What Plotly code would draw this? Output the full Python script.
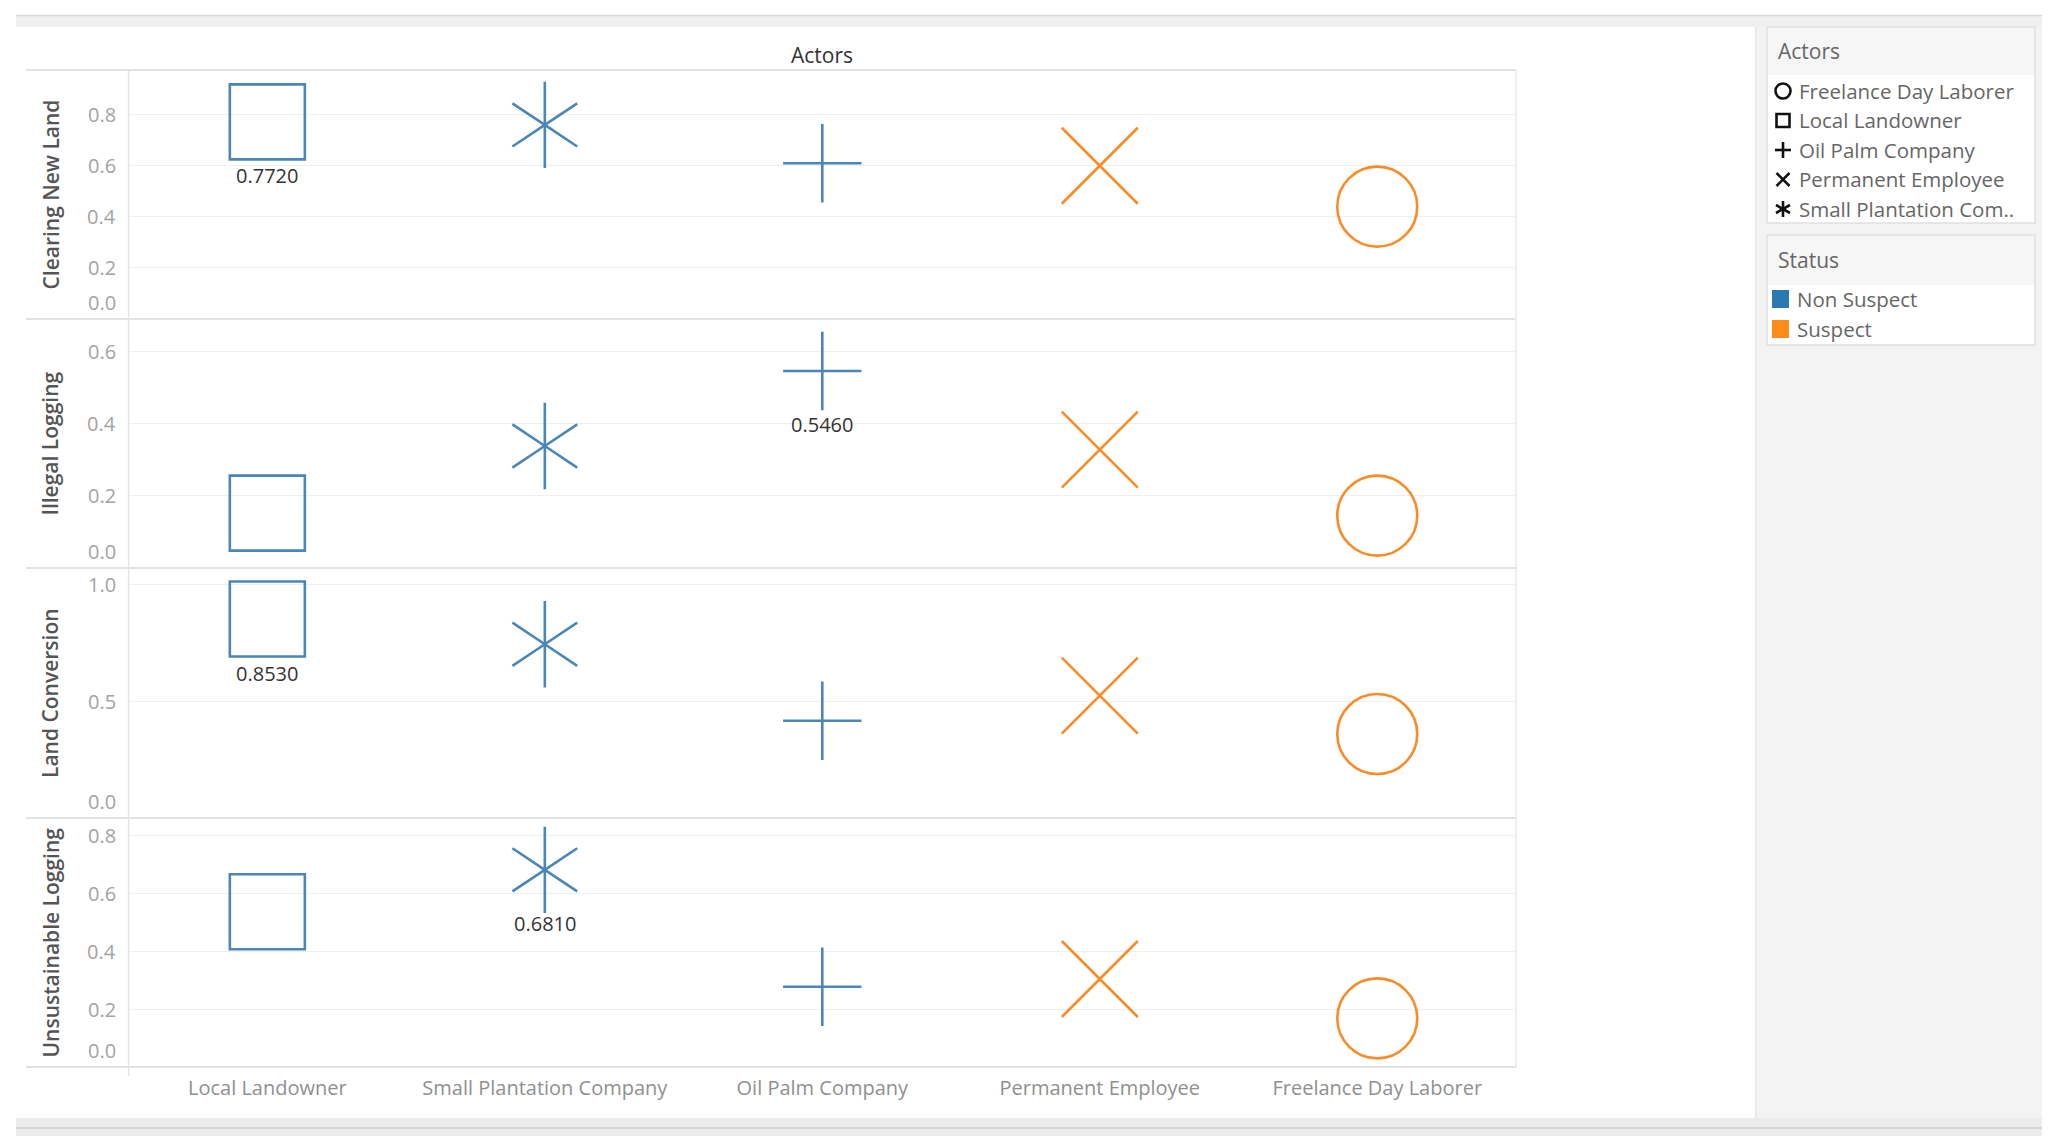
import plotly.graph_objects as go

W, H = 2058, 1147

# ---------------- data ----------------
actors = ["Local Landowner", "Small Plantation Company", "Oil Palm Company",
          "Permanent Employee", "Freelance Day Laborer"]
actor_status = ["Non Suspect", "Non Suspect", "Non Suspect", "Suspect", "Suspect"]
crimes = ["Clearing New Land", "Illegal Logging", "Land Conversion", "Unsustainable Logging"]
clearing_new_land = [0.772, 0.760, 0.610, 0.600, 0.440]
illegal_logging = [0.152, 0.338, 0.546, 0.328, 0.145]
land_conversion = [0.853, 0.745, 0.417, 0.525, 0.360]
unsustainable_logging = [0.536, 0.681, 0.277, 0.304, 0.168]
y_tick_values = [[0, 0.2, 0.4, 0.6, 0.8], [0, 0.2, 0.4, 0.6], [0, 0.5, 1.0], [0, 0.2, 0.4, 0.6, 0.8]]
legend_actor_labels = ["Freelance Day Laborer", "Local Landowner", "Oil Palm Company",
                       "Permanent Employee", "Small Plantation Com.."]
legend_status_labels = ["Non Suspect", "Suspect"]

series = [clearing_new_land, illegal_logging, land_conversion, unsustainable_logging]

# ---------------- styles ----------------
FONT = "Open Sans"
status_color = {"Non Suspect": "#4a86b8", "Suspect": "#fb8b26"}
swatch_color = {"Non Suspect": "#2b79b1", "Suspect": "#ff8b1c"}
actor_symbols = {
    "Local Landowner": [("square-open", 75)],
    "Small Plantation Company": [("y-up-open", 54), ("y-down-open", 54)],
    "Oil Palm Company": [("cross-thin-open", 56)],
    "Permanent Employee": [("x-thin-open", 76)],
    "Freelance Day Laborer": [("circle-open", 80)],
}
y_ranges = [[0, 0.975], [0, 0.69], [0, 1.072], [0, 0.86]]
panel_px = [(70, 319), (319, 568), (568, 818), (818, 1067)]
plot_left, plot_right = 128.6, 1516


def px(x):
    return x / W


def py(y):
    return 1 - y / H


fig = go.Figure()
axis_names = ["y", "y2", "y3", "y4"]

for i, vals in enumerate(series):
    ya = axis_names[i]
    for j, actor in enumerate(actors):
        col = status_color[actor_status[j]]
        for sym, size in actor_symbols[actor]:
            fig.add_trace(go.Scatter(
                x=[actor], y=[vals[j]], mode="markers", xaxis="x", yaxis=ya,
                marker=dict(symbol=sym, size=size, color=col,
                            line=dict(color=col, width=2.6)),
                showlegend=False, name=actor,
                hovertemplate=f"{crimes[i]}<br>{actor}: %{{y:.4f}}<extra></extra>"))

layout = dict(
    width=W, height=H,
    margin=dict(l=0, r=0, t=0, b=0),
    paper_bgcolor="white", plot_bgcolor="rgba(0,0,0,0)",
    font=dict(family=FONT, color="#555"),
    showlegend=False,
    xaxis=dict(
        type="category", categoryarray=actors, categoryorder="array",
        range=[-0.5, 4.5], domain=[px(plot_left), px(plot_right)],
        anchor="y4", showgrid=False, zeroline=False, showline=False,
        ticks="", tickfont=dict(size=20, color="#909090", family=FONT),
        ticklabelstandoff=7,
    ),
)
for i, (top, bot) in enumerate(panel_px):
    key = "yaxis" if i == 0 else f"yaxis{i + 1}"
    layout[key] = dict(
        domain=[py(bot), py(top)], range=y_ranges[i], anchor="x",
        tickvals=y_tick_values[i], showticklabels=False,
        showgrid=True, gridcolor="#efefef", gridwidth=1,
        zeroline=False, showline=False, ticks="",
    )
fig.update_layout(**layout)

shapes = []
# page background pieces
shapes.append(dict(type="rect", xref="paper", yref="paper", x0=px(16), x1=px(2042), y0=py(27), y1=py(15),
                   fillcolor="#efefef", line=dict(width=0), layer="below"))
shapes.append(dict(type="line", xref="paper", yref="paper", x0=px(16), x1=px(2042), y0=py(15.5), y1=py(15.5),
                   line=dict(color="#dadada", width=1.5), layer="below"))
shapes.append(dict(type="rect", xref="paper", yref="paper", x0=px(1757), x1=px(2042), y0=py(1118), y1=py(27),
                   fillcolor="#f3f3f3", line=dict(width=0), layer="below"))
shapes.append(dict(type="line", xref="paper", yref="paper", x0=px(1756), x1=px(1756), y0=py(1118), y1=py(27),
                   line=dict(color="#e2e2e2", width=1.5), layer="below"))
shapes.append(dict(type="rect", xref="paper", yref="paper", x0=px(16), x1=px(2042), y0=py(1136), y1=py(1118),
                   fillcolor="#ececec", line=dict(width=0), layer="below"))
shapes.append(dict(type="line", xref="paper", yref="paper", x0=px(16), x1=px(2042), y0=py(1128), y1=py(1128),
                   line=dict(color="#d6d6d6", width=2), layer="below"))

# legend boxes
for (t, hb, b) in [(27, 75, 223), (235, 285, 345)]:
    shapes.append(dict(type="rect", xref="paper", yref="paper", x0=px(1767), x1=px(2035), y0=py(b), y1=py(t),
                       fillcolor="white", line=dict(color="#e0e0e0", width=1.5), layer="below"))
    shapes.append(dict(type="rect", xref="paper", yref="paper", x0=px(1768), x1=px(2034), y0=py(hb), y1=py(t + 1),
                       fillcolor="#f6f6f6", line=dict(width=0), layer="below"))

# panel separators
for y in [70, 319, 568, 818, 1067]:
    shapes.append(dict(type="line", xref="paper", yref="paper", x0=px(26), x1=px(plot_right), y0=py(y), y1=py(y),
                       line=dict(color="#d9d9d9", width=1.6), layer="below"))
shapes.append(dict(type="line", xref="paper", yref="paper", x0=px(plot_left), x1=px(plot_left), y0=py(1076), y1=py(70),
                   line=dict(color="#e3e3e3", width=1.4), layer="below"))
shapes.append(dict(type="line", xref="paper", yref="paper", x0=px(plot_right), x1=px(plot_right), y0=py(1067), y1=py(70),
                   line=dict(color="#e8e8e8", width=1.4), layer="below"))

# status swatches
for k, s in enumerate(legend_status_labels):
    yc = 299 + k * 30
    shapes.append(dict(type="rect", xref="paper", yref="paper", x0=px(1772), x1=px(1789),
                       y0=py(yc + 9), y1=py(yc - 9), fillcolor=swatch_color[s], line=dict(width=0)))


# legend shape glyphs (black keys)
def key_line(x0, y0, x1, y1):
    return dict(type="line", xref="paper", yref="paper", x0=px(x0), x1=px(x1), y0=py(y0), y1=py(y1),
                line=dict(color="#111", width=2.6))


gx = 1783
for k, lab in enumerate(legend_actor_labels):
    yc = 91 + k * 29.5
    if k == 0:
        shapes.append(dict(type="circle", xref="paper", yref="paper", x0=px(gx - 7.5), x1=px(gx + 7.5),
                           y0=py(yc + 7.5), y1=py(yc - 7.5), line=dict(color="#111", width=2.6)))
    elif k == 1:
        shapes.append(dict(type="rect", xref="paper", yref="paper", x0=px(gx - 6.5), x1=px(gx + 6.5),
                           y0=py(yc + 6.5), y1=py(yc - 6.5), line=dict(color="#111", width=2.6)))
    elif k == 2:
        shapes.append(key_line(gx - 8, yc, gx + 8, yc))
        shapes.append(key_line(gx, yc - 8, gx, yc + 8))
    elif k == 3:
        shapes.append(key_line(gx - 6.5, yc - 6.5, gx + 6.5, yc + 6.5))
        shapes.append(key_line(gx - 6.5, yc + 6.5, gx + 6.5, yc - 6.5))
    else:
        shapes.append(key_line(gx, yc - 8, gx, yc + 8))
        shapes.append(key_line(gx - 7, yc - 4, gx + 7, yc + 4))
        shapes.append(key_line(gx - 7, yc + 4, gx + 7, yc - 4))

annotations = []


def ann(x, y, text, size, color, xanchor="center", yanchor="middle", **kw):
    d = dict(x=x, y=y, xref=kw.pop("xref", "paper"), yref=kw.pop("yref", "paper"), text=text,
             showarrow=False, xanchor=xanchor, yanchor=yanchor,
             font=dict(size=size, color=color, family=FONT, **kw.pop("fontkw", {})))
    d.update(kw)
    annotations.append(d)


# column header
ann(px(822), py(55), "Actors", 21, "#333")
# row titles
for i, (top, bot) in enumerate(panel_px):
    ann(px(50), py((top + bot) / 2), crimes[i], 21, "#555", textangle=-90, fontkw=dict(weight=600))
# y tick labels (through each panel's own axis)
for i, ticks in enumerate(y_tick_values):
    for v in ticks:
        ann(px(118), v, f"{v:.1f}", 20, "#a3a3a3", xanchor="right",
            yanchor="middle" if v > 0 else "bottom", yref=axis_names[i], yshift=0 if v > 0 else 1)
# max labels
for i, vals in enumerate(series):
    j = max(range(len(vals)), key=lambda k: vals[k])
    ann(actors[j], vals[j], f"{vals[j]:.4f}", 20, "#333", xref="x", yref=axis_names[i], yshift=-54)

# legend text
ann(px(1776), py(51), "Actors", 21, "#666", xanchor="left")
for k, lab in enumerate(legend_actor_labels):
    ann(px(1797), py(91 + k * 29.5), lab, 20.5, "#666", xanchor="left")
ann(px(1776), py(260), "Status", 21, "#666", xanchor="left")
for k, lab in enumerate(legend_status_labels):
    ann(px(1795), py(299 + k * 30), lab, 20.5, "#666", xanchor="left")

fig.update_layout(shapes=shapes, annotations=annotations)

fig.write_html("out.html", config={"displayModeBar": False},
               post_script="document.body.style.margin='0';document.body.style.overflow='hidden';")
